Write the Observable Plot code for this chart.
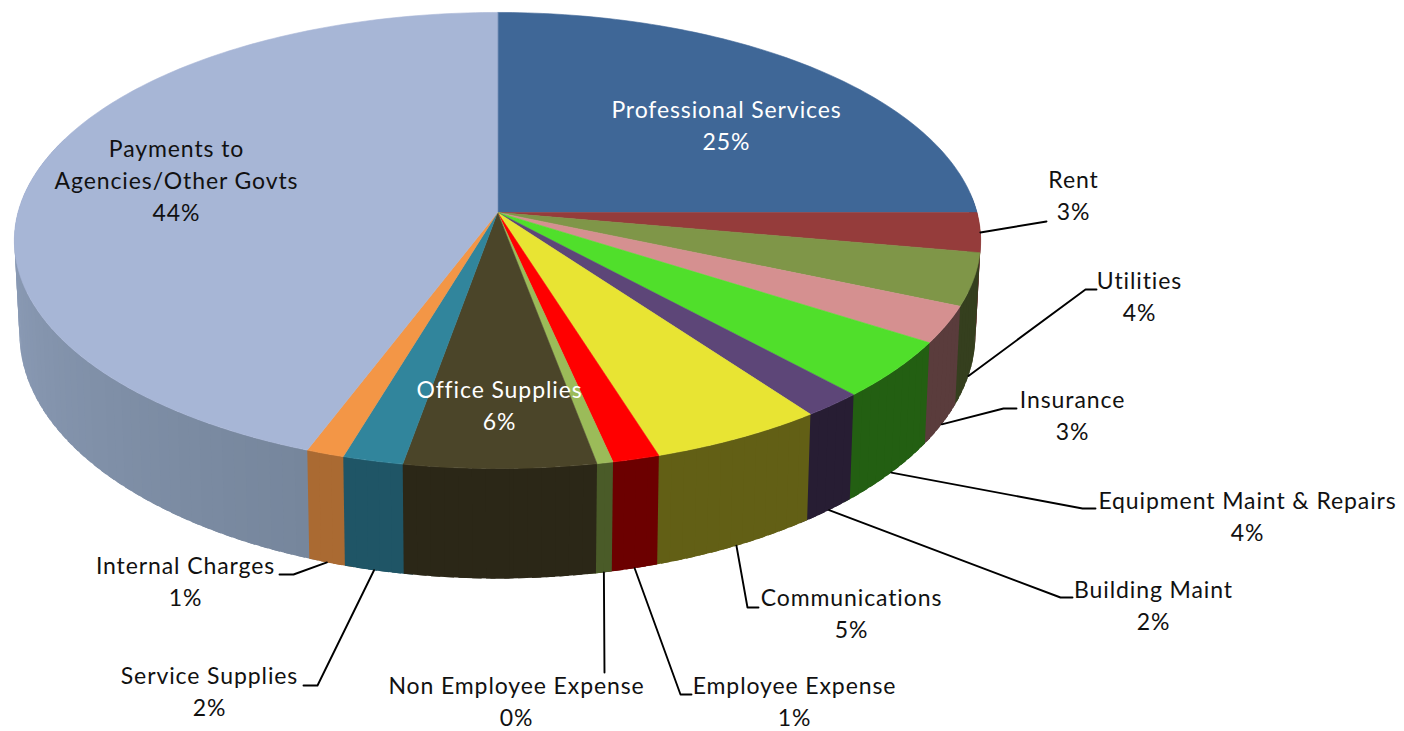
<!DOCTYPE html>
<html>
<head>
<meta charset="utf-8">
<title>Expenditure by category</title>
<style>
  html, body { margin: 0; background: #fff; }
  svg { display: block; }
</style>
<script src="https://cdn.jsdelivr.net/npm/d3@7"></script>
<script src="https://cdn.jsdelivr.net/npm/@observablehq/plot@0.6"></script>
</head>
<body>
<script>
// Expenditure shares, percent of total, clockwise from twelve o'clock
const categories = ["Professional Services", "Rent", "Utilities", "Insurance", "Equipment Maint & Repairs",
  "Building Maint", "Communications", "Employee Expense", "Non Employee Expense", "Office Supplies",
  "Service Supplies", "Internal Charges", "Payments to\nAgencies/Other Govts"];
const shares = [25, 2.8, 3.7, 2.6, 4.1, 1.8, 5.2, 1.4, 0.48, 5.7, 1.8, 1.13, 44.29];

const topColors = ["#3f6797", "#953c3b", "#7f9648", "#d59090", "#50df2b", "#5d4678", "#e8e433",
  "#ff0000", "#9bbb59", "#4b4529", "#31859c", "#f39646", "#a7b6d6"];
// Side wall colours at the start and end of each slice
const wallStart = ["#2a4465", "#642827", "#353f1e", "#5a3c3c", "#235f12", "#271d33", "#625f15",
  "#6c0000", "#4a5b28", "#2b2717", "#1f5566", "#aa6a32", "#76869c"];
const wallEnd = ["#2a4465", "#642827", "#353f1e", "#5a3c3c", "#235f12", "#271d33", "#625f15",
  "#6c0000", "#4a5b28", "#2b2717", "#1f5566", "#aa6a32", "#94a4c0"];

// Label block centres, text colours and leader elbows
const labelX = [726, 1073, 1139, 1072, 1247, 1153, 851, 794, 516, 499, 209, 185, 176];
const labelY = [126, 196, 297, 416, 517, 606, 614, 702, 702, 406, 692, 582, 181];
const labelFill = ["#fff", "#111", "#111", "#111", "#111", "#111", "#111", "#111", "#111", "#fff", "#111", "#111", "#111"];
const leaderBends = [null, [[1046, 221]], [[1085, 289], [1096, 289]], [[1003, 408], [1016, 408]],
  [[1082, 508], [1095, 508]], [[1060, 597], [1072, 597]], [[747, 607], [758, 607]],
  [[680, 694], [691, 694]], [[604, 672]], null, [[317, 685], [303, 685]], [[293, 574], [279, 574]], null];

// Perspective views of the pie's upper and lower discs
const upperDisc = {cx: 497, cy: 212, a: 479.5, b: 224.6, p: 0.1228};
const lowerDisc = {cx: 497, cy: 303.5, a: 474.4, b: 240.8, p: 0.1228};
function project(disc, deg) {
  const t = deg * Math.PI / 180, X = Math.sin(t), Y = Math.cos(t), w = 1 + disc.p * Y;
  return {x: disc.cx + disc.a * X / w, y: disc.cy - disc.b * Y / w};
}

// Slice angles from the shares
let running = 0;
const slices = categories.map((name, i) => {
  const start = running * 3.6;
  running += shares[i];
  return {i, name, start, end: running * 3.6, mid: (running - shares[i] / 2) * 3.6};
});

// Angle samples across a slice, always landing on its two edges
function arcAngles(s) {
  const n = Math.max(1, Math.ceil(s.end - s.start));
  return d3.range(n + 1).map(k => s.start + (s.end - s.start) * k / n);
}

// Top face: one closed outline per slice
const facePoints = slices.flatMap(s => [
  {k: s.i, color: topColors[s.i], x: upperDisc.cx, y: upperDisc.cy},
  ...arcAngles(s).map(d => ({k: s.i, color: topColors[s.i], ...project(upperDisc, d)}))
]);

// Side wall: narrow quads along the visible rim, painted from the sides inward.
// Each quad runs a little under the next one so no seam shows between them.
const wallQuads = [];
for (const s of slices) {
  const shade = d3.interpolateRgb(wallStart[s.i], wallEnd[s.i]);
  const span = s.i === 12 ? Math.min(s.end, 290) : s.end;
  if (span <= 85) continue;
  const from = Math.max(s.start, 85);
  const n = Math.max(1, Math.ceil((span - from) / 1.5));
  for (let k = 0; k < n; k++) {
    const d0 = from + (span - from) * k / n, d1 = from + (span - from) * (k + 1) / n;
    const mid = (d0 + d1) / 2;
    wallQuads.push({
      mid,
      d0: mid > 180 ? d0 - 1 : d0,
      d1: mid < 180 ? d1 + 1 : d1,
      color: shade((k + 0.5) / n)
    });
  }
}
wallQuads.sort((a, b) => Math.abs(b.mid - 180) - Math.abs(a.mid - 180));
const wallPoints = wallQuads.flatMap((q, k) => [
  project(upperDisc, q.d0), project(upperDisc, q.d1), project(lowerDisc, q.d1), project(lowerDisc, q.d0)
].map(p => ({k, color: q.color, ...p})));

// Leader lines run from the rim at the slice's middle to the label
const leaderPoints = slices.flatMap(s => {
  const bends = leaderBends[s.i];
  if (!bends) return [];
  const rim = project(s.name === "Rent" ? upperDisc : lowerDisc, s.mid);
  return [rim, ...bends.map(([x, y]) => ({x, y}))].map(p => ({k: s.i, ...p}));
});

const labels = slices.map(s => ({
  x: labelX[s.i], y: labelY[s.i] - 3, fill: labelFill[s.i],
  text: `${s.name}\n${Math.round(shares[s.i])}%`
}));

const chart = Plot.plot({
  width: 1404,
  height: 731,
  margin: 0,
  x: {domain: [0, 1404], axis: null},
  y: {domain: [731, 0], axis: null},
  color: {type: "identity"},
  style: {background: "#fff", letterSpacing: "0.9px"},
  marks: [
    Plot.line(wallPoints, {x: "x", y: "y", z: "k", fill: "color", curve: "linear-closed"}),
    Plot.line(facePoints, {x: "x", y: "y", z: "k", fill: "color", stroke: "color", strokeWidth: 0.6, curve: "linear-closed"}),
    Plot.line(leaderPoints, {x: "x", y: "y", z: "k", stroke: "#000", strokeWidth: 1.9, curve: "linear"}),
    Plot.text(labels, {
      x: "x", y: "y", text: "text", fill: "fill", textAnchor: "middle", lineAnchor: "middle",
      fontFamily: "Lato", fontSize: 23, lineHeight: 1.39
    })
  ]
});
document.body.append(chart);
</script>
</body>
</html>
